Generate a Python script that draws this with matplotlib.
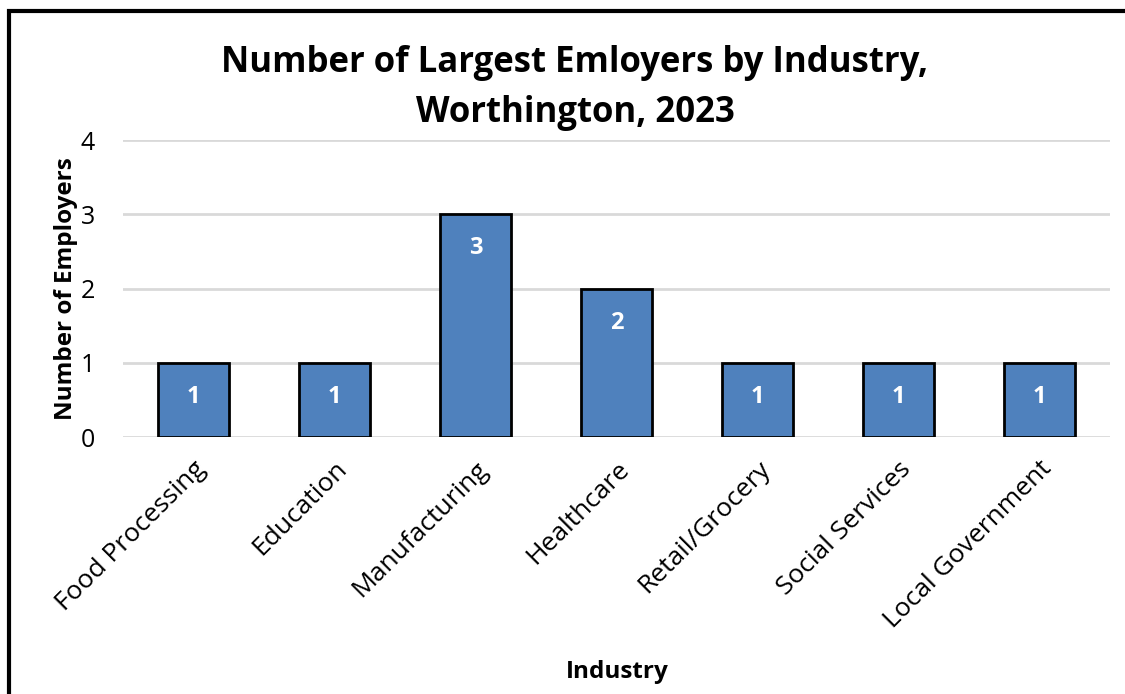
import matplotlib.pyplot as plt
from matplotlib.patches import Rectangle

industries = ['Food Processing', 'Education', 'Manufacturing', 'Healthcare',
              'Retail/Grocery', 'Social Services', 'Local Government']
employers = [1, 1, 3, 2, 1, 1, 1]
y_ticks = [0, 1, 2, 3, 4]

plt.rcParams['font.family'] = ['Open Sans', 'DejaVu Sans']

fig = plt.figure(figsize=(11.25, 6.94), dpi=100)
ax = fig.add_axes([123 / 1125, 1 - 437 / 694, (1110 - 123) / 1125, (437 - 140) / 694])

bars = ax.bar(range(len(industries)), employers, width=0.51,
              color='#4F81BD', edgecolor='black', linewidth=2, zorder=3)
# labels sit near the inside end of each bar, like Excel
for b, v in zip(bars, employers):
    ax.text(b.get_x() + b.get_width() / 2, v - 0.46, str(v), ha='center', va='center',
            color='white', fontsize=17, fontweight='bold', zorder=4)

ax.set_xlim(-0.5, len(industries) - 0.5)
ax.set_ylim(0, 4)
ax.set_yticks(y_ticks)
ax.grid(axis='y', color='#D9D9D9', linewidth=2, zorder=0)
ax.set_xticks(range(len(industries)))
ax.set_xticklabels(industries, rotation=45, ha='right', rotation_mode='anchor', fontsize=19)
ax.tick_params(axis='y', labelsize=18, length=0, pad=20)
ax.tick_params(axis='x', length=0, pad=14)
for s in ax.spines.values():
    s.set_visible(False)

ax.set_ylabel('Number of Employers', fontsize=17.5, fontweight='bold', labelpad=2)
fig.text(617 / 1125, 1 - 672 / 694, 'Industry', ha='center', va='center',
         fontsize=17.5, fontweight='bold')
fig.text(575 / 1125, 1 - 88 / 694, 'Number of Largest Emloyers by Industry,\nWorthington, 2023',
         ha='center', va='center', fontsize=25, fontweight='bold', linespacing=1.5)

fig.patches.append(Rectangle((9 / 1125, -0.1), 1.2, 1 - 11 / 694 + 0.1, transform=fig.transFigure,
                             fill=False, edgecolor='black', linewidth=3))

fig.savefig('out.png', dpi=100)
